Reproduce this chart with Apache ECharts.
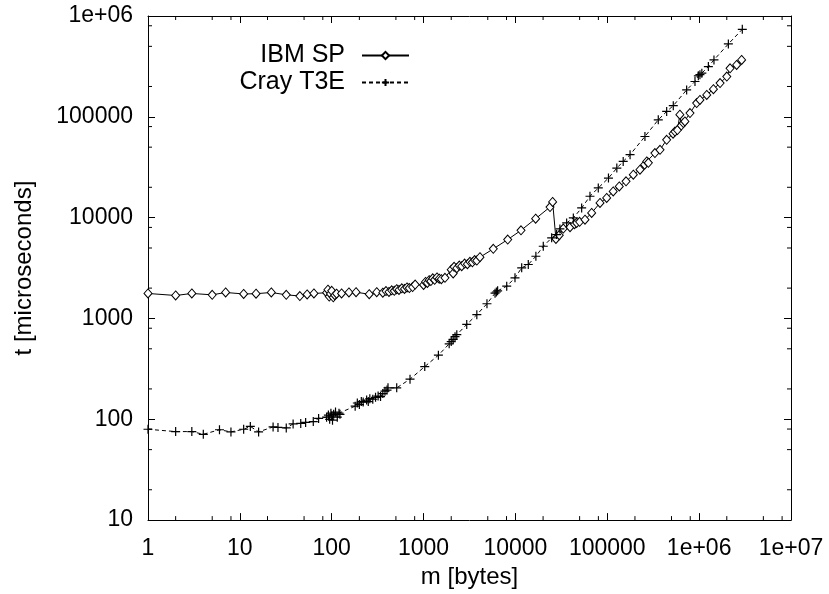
<!DOCTYPE html>
<html><head><meta charset="utf-8">
<script src="https://cdn.jsdelivr.net/npm/echarts@6/dist/echarts.min.js"></script>
<style>html,body{margin:0;padding:0;background:#fff}#c{width:829px;height:594px}</style>
</head><body><div id="c"></div>
<script>
// IBM SP: message size m [bytes] and time t [microseconds]
const ibmM = [1,2,3,5,7,11,15,22,32,45,54,64,88,91,94,97,100,104,108,113,128,154,184,256,309,360,390,420,450,480,510,540,580,620,660,700,760,810,1000,1050,1100,1150,1200,1260,1320,1400,1480,1560,1710,2000,2100,2150,2300,2450,2600,2800,3000,3200,3400,3600,3800,4110,5740,8240,11500,16600,23800,25400,27600,30000,33200,39300,44000,46400,50000,57200,67600,83300,98500,116000,135000,160000,192000,227000,255000,269000,280000,330000,375000,443000,520000,546000,580000,617000,640000,673000,700000,795000,940000,1020000,1210000,1430000,1690000,2000000,2170000,2560000,2900000];
const ibmT = [1770,1690,1770,1715,1810,1750,1760,1810,1715,1670,1730,1770,1800,1930,1650,1750,1880,1620,1700,1760,1770,1810,1820,1740,1820,1800,1870,1830,1900,1880,1950,1920,1990,1960,2030,2000,2050,2170,2150,2300,2250,2400,2350,2500,2420,2550,2480,2450,2530,3050,2800,3250,3150,3350,3300,3500,3450,3650,3600,3800,3750,4050,4900,6060,7480,9770,12750,14300,6150,6700,7790,8030,8600,8870,9100,9550,11140,14000,15700,18200,20400,22900,26700,29900,33500,36100,35000,43700,47100,59200,68000,71500,74000,105000,82000,86700,90000,109000,137000,147000,165000,188000,216000,251000,303000,327000,367000];
// Cray T3E
const crayM = [1,2,3,4,6,8,11,13,16,23,26,32,38,46,52,63,72,88,92,95,98,100,102,105,110,115,120,123,180,190,200,210,220,240,250,260,280,300,320,340,360,380,400,410,510,712,1030,1450,1900,2000,2100,2200,2300,2950,3800,4900,6000,6200,6400,8040,9890,11700,13800,16700,20100,24800,28100,30500,36100,42700,52600,64800,79800,103000,127000,149000,177000,257000,359000,443000,523000,731000,901000,980000,1020000,1070000,1260000,1450000,2080000,2950000];
const crayT = [79.6,75.5,75.5,71,78.7,75,79.6,85,75,84,83,82,90,91,93,95,102,105,110,100,115,108,98,112,118,105,115,112,135,145,140,150,148,155,150,160,158,165,170,168,180,190,195,205,205,250,333,432,560,590,620,660,690,873,1090,1400,1780,1830,1880,2090,2530,3180,3430,4140,5200,6300,6800,7730,8870,9940,12470,16300,19700,24700,31000,36100,42100,63800,93400,113000,129000,185000,224000,255000,262000,271000,315000,367000,528000,738000];
// axis tick values
const xMajor = [1,10,100,1000,10000,100000,1000000,10000000];
const yMajor = [10,100,1000,10000,100000,1000000];
const minorMult = [2,5,8];

const FONT = 'Liberation Sans, Arial, Helvetica, sans-serif';
const FS_TICK = 23, FS_NAME = 24, FS_LEG = 25;
const fmt = v => v >= 1e6 ? '1e+0' + Math.round(Math.log10(v)) : String(Math.round(v));

const xMinor = [], yMinor = [];
for (let i = 0; i < xMajor.length - 1; i++) minorMult.forEach(k => xMinor.push(xMajor[i] * k));
for (let i = 0; i < yMajor.length - 1; i++) minorMult.forEach(k => yMinor.push(yMajor[i] * k));
const X0 = xMajor[0], X1 = xMajor[xMajor.length-1], Y0 = yMajor[0], Y1 = yMajor[yMajor.length-1];

const chart = echarts.init(document.getElementById('c'), null, {renderer:'canvas'});
const axisCommon = {
  type: 'log', logBase: 10, interval: 1,
  axisLine: {show: true, onZero: false, lineStyle: {color: '#000', width: 1}},
  axisTick: {show: true, inside: true, length: 7, lineStyle: {color: '#000', width: 1}},
  splitLine: {show: false}, minorTick: {show: false}
};
const crossPath = 'path://M5,0 L5,10 M0,5 L10,5';
const tickLen = 4;
chart.setOption({
  animation: false,
  backgroundColor: '#fff',
  textStyle: {fontFamily: FONT},
  grid: {left: 148, right: 38, top: 16, bottom: 73, containLabel: false},
  legend: {
    data: ['IBM SP', 'Cray T3E'], orient: 'vertical', align: 'right',
    right: 419, top: 43, padding: 0, itemWidth: 47, itemHeight: 9, itemGap: 2,
    textStyle: {fontFamily: FONT, fontSize: FS_LEG, color: '#000', padding: [0, 12, 0, 0]}
  },
  xAxis: [
    Object.assign({}, axisCommon, {min: X0, max: X1, position: 'bottom',
      name: 'm [bytes]', nameLocation: 'middle', nameGap: 42,
      nameTextStyle: {fontFamily: FONT, fontSize: FS_NAME, color: '#000'},
      axisLabel: {show: true, margin: 17, color: '#000', fontFamily: FONT, fontSize: FS_TICK, formatter: fmt}}),
    Object.assign({}, axisCommon, {min: X0, max: X1, position: 'top', axisLabel: {show: false}})
  ],
  yAxis: [
    Object.assign({}, axisCommon, {min: Y0, max: Y1, position: 'left',
      name: 't [microseconds]', nameLocation: 'middle', nameGap: 112, nameRotate: 90,
      nameTextStyle: {fontFamily: FONT, fontSize: FS_NAME, color: '#000'},
      axisLabel: {show: true, margin: 15, color: '#000', fontFamily: FONT, fontSize: FS_TICK, formatter: fmt}}),
    Object.assign({}, axisCommon, {min: Y0, max: Y1, position: 'right', axisLabel: {show: false}})
  ],
  series: [
    {
      name: 'IBM SP', type: 'line', xAxisIndex: 0, yAxisIndex: 0,
      data: ibmM.map((m, i) => [m, ibmT[i]]),
      symbol: 'diamond', symbolSize: [8, 9], showAllSymbol: true,
      lineStyle: {color: '#000', width: 1, type: 'solid'},
      itemStyle: {color: '#fff', borderColor: '#000', borderWidth: 1},
      emphasis: {disabled: true}
    },
    {
      name: 'Cray T3E', type: 'line', xAxisIndex: 0, yAxisIndex: 0,
      data: crayM.map((m, i) => [m, crayT[i]]),
      symbol: crossPath, symbolSize: 9, showAllSymbol: true,
      lineStyle: {color: '#000', width: 1, type: [4, 3]},
      itemStyle: {color: 'none', borderColor: '#000', borderWidth: 1.2},
      emphasis: {disabled: true}
    },
    {
      type: 'custom', xAxisIndex: 0, yAxisIndex: 0, silent: true, clip: false,
      data: xMinor.map(v => [v, Y0]),
      renderItem: (p, api) => {
        const v = api.value(0);
        const b = api.coord([v, Y0]), t = api.coord([v, Y1]);
        return {type: 'group', children: [
          {type: 'line', shape: {x1: b[0], y1: b[1], x2: b[0], y2: b[1] - tickLen}, style: {stroke: '#000', lineWidth: 1}},
          {type: 'line', shape: {x1: t[0], y1: t[1], x2: t[0], y2: t[1] + tickLen}, style: {stroke: '#000', lineWidth: 1}}
        ]};
      }
    },
    {
      type: 'custom', xAxisIndex: 0, yAxisIndex: 0, silent: true, clip: false,
      data: yMinor.map(v => [X0, v]),
      renderItem: (p, api) => {
        const v = api.value(1);
        const l = api.coord([X0, v]), r = api.coord([X1, v]);
        return {type: 'group', children: [
          {type: 'line', shape: {x1: l[0], y1: l[1], x2: l[0] + tickLen, y2: l[1]}, style: {stroke: '#000', lineWidth: 1}},
          {type: 'line', shape: {x1: r[0], y1: r[1], x2: r[0] - tickLen, y2: r[1]}, style: {stroke: '#000', lineWidth: 1}}
        ]};
      }
    }
  ]
});
</script></body></html>
